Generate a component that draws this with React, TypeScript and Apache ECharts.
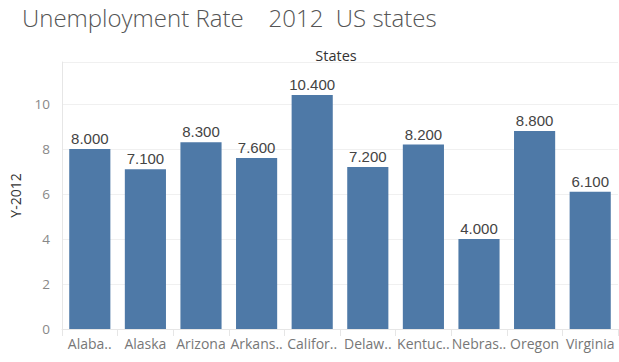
import React, { useEffect, useRef } from "react";
import * as echarts from "echarts";

const categories = ["Alaba..", "Alaska", "Arizona", "Arkans..", "Califor..", "Delaw..", "Kentuc..", "Nebras..", "Oregon", "Virginia"];
const values = [8.0, 7.1, 8.3, 7.6, 10.4, 7.2, 8.2, 4.0, 8.8, 6.1];
const titleText = "Unemployment Rate    2012  US states";
const xName = "States";
const yName = "Y-2012";

export default function App() {
  const ref = useRef<HTMLDivElement>(null);
  useEffect(() => {
    const chart = echarts.init(ref.current!, null, { renderer: "svg" });
    const font = "'Open Sans', 'Noto Sans', sans-serif";
    const labelFont = "'Liberation Sans', Arial, sans-serif";
    chart.setOption({
      animation: false,
      textStyle: { fontFamily: font },
      title: {
        text: titleText,
        left: 17,
        top: 0,
        textStyle: { fontFamily: font, fontSize: 24, fontWeight: 300, color: "#555" },
      },
      graphic: [
        {
          type: "text",
          x: 336,
          y: 55,
          style: {
            text: xName,
            fontFamily: font,
            fontSize: 14.5,
            fill: "#333",
            textAlign: "center",
            textVerticalAlign: "middle",
          },
        },
      ],
      grid: { left: 53, right: 1, top: 62, bottom: 33 },
      xAxis: {
        type: "category",
        data: categories,
        axisLine: { show: true, lineStyle: { color: "#e6e6e6" } },
        axisTick: { show: true, alignWithLabel: false, length: 7, lineStyle: { color: "#e6e6e6" } },
        axisLabel: { color: "#777", fontSize: 14, fontFamily: font, interval: 0, margin: 7 },
      },
      yAxis: {
        type: "value",
        min: 0,
        max: 11.87,
        interval: 2,
        name: yName,
        nameLocation: "middle",
        nameGap: 40,
        nameTextStyle: { color: "#333", fontSize: 14, fontFamily: font },
        axisLine: { show: true, lineStyle: { color: "#e6e6e6" } },
        axisTick: { show: false },
        axisLabel: {
          color: "#888",
          fontSize: 13.5,
          fontFamily: font,
          margin: 12,
          showMaxLabel: false,
        },
        splitLine: { show: true, lineStyle: { color: "#f0f0f0" } },
      },
      series: [
        {
          type: "bar",
          data: values,
          barCategoryGap: "26%",
          itemStyle: { color: "#4e79a7" },
          label: {
            show: true,
            position: "top",
            distance: 3,
            color: "#444",
            fontSize: 15,
            fontFamily: labelFont,
            formatter: (p: any) => Number(p.value).toFixed(3),
          },
        },
      ],
    });
    return () => chart.dispose();
  }, []);
  return <div ref={ref} style={{ width: 619, height: 362, position: "absolute", left: 0, top: 0 }} />;
}
